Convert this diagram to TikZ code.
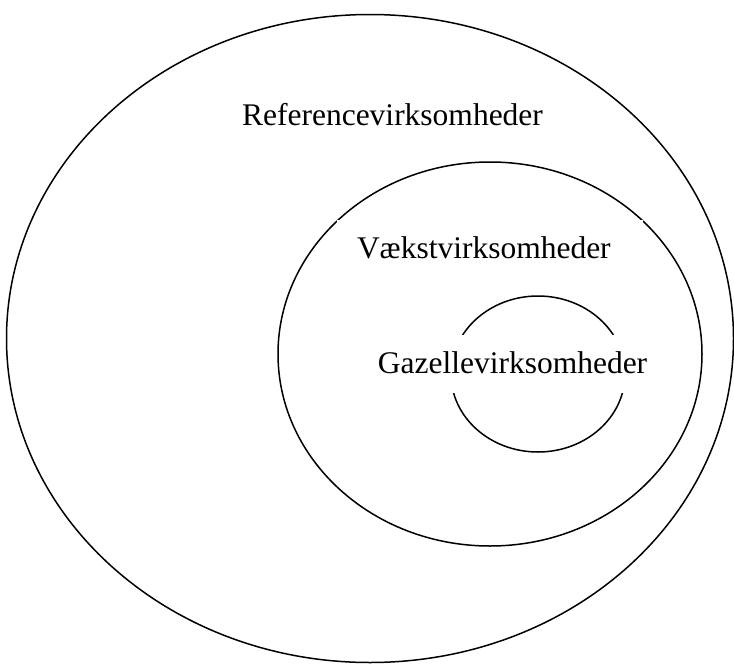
\documentclass[tikz,border=0pt]{standalone}
\usepackage{fontspec}
\setmainfont{Liberation Serif}
\usepackage{tikz}
\usetikzlibrary{positioning, shapes.geometric}

\begin{document}
\begin{tikzpicture}[
        x=1pt, y=-1pt,
        ring/.style={ellipse, draw=black, line width=1.5pt, inner sep=0pt, outer sep=0pt},
        firmtext/.style={fill=white, font=\fontsize{31.5}{38}\selectfont, text height=28pt, text depth=10pt, inner xsep=20pt, inner ysep=10pt, anchor=base}
    ]
        \useasboundingbox (0,0) rectangle (734,664);

        % Ellipses
        \node[ring, minimum width=727pt, minimum height=648pt] (ref) at (370,338.5) {};
        \node[ring, minimum width=424pt, minimum height=384pt] (vaekst) at (490,354) {};
        \node[ring, minimum width=174pt, minimum height=156pt] (gazelle) at (538,374) {};

        % Labels
        \node[firmtext] (reftext) at (392.5,125) {Referencevirksomheder};
        \node[firmtext, text width=266pt, align=left] (vaeksttext) at (490,258) {Vækstvirksomheder};
        \node[firmtext] (gazelletext) at (512.5,373) {Gazellevirksomheder};
    \end{tikzpicture}
\end{document}
